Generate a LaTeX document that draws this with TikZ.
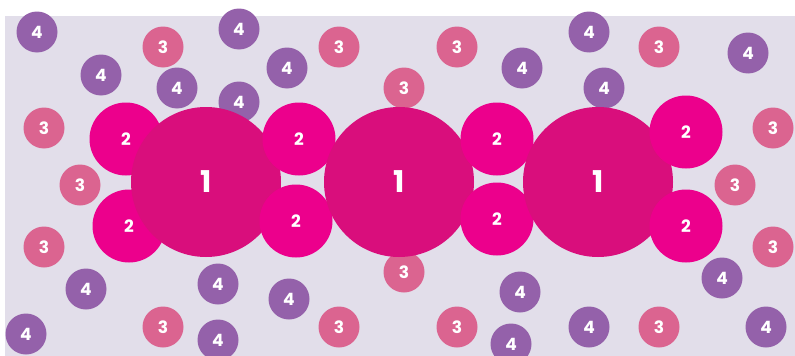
\documentclass[tikz,border=0pt]{standalone}
\usepackage{fontspec}
\setmainfont{Poppins}
\definecolor{bgc}{HTML}{E2DEEA}
\definecolor{cone}{HTML}{D90E7C}
\definecolor{ctwo}{HTML}{EC008C}
\definecolor{cthree}{HTML}{DB6490}
\definecolor{cfour}{HTML}{9461AA}
\begin{document}
\begin{tikzpicture}[x=1pt,y=-1pt,
  bub/.style={circle,inner sep=0pt,text=white,font=\bfseries},
  lone/.style={bub,fill=cone,minimum size=150pt,font=\bfseries\fontsize{30}{30}\selectfont},
  ltwo/.style={bub,fill=ctwo,minimum size=73pt,font=\bfseries\fontsize{17}{17}\selectfont},
  lthree/.style={bub,fill=cthree,minimum size=41pt,font=\bfseries\fontsize{17}{17}\selectfont},
  lfour/.style={bub,fill=cfour,minimum size=41pt,font=\bfseries\fontsize{17}{17}\selectfont}]
\useasboundingbox (0,0) rectangle (795,356);
\fill[bgc] (5,16) rectangle (795,356);
% level 4
\foreach \n/\x/\y in {a/37/32,b/101/75,c/177/88,d/239/29,e/287/68,f/239/102,g/522/68,h/589/32,i/604/88,j/748/53,k/86/289,l/26/334,m/218/284,n/289/299,o/218/340,p/520/292,q/511/344,r/589/327,s/722/278,t/766/327}
  \node[lfour] (f\n) at (\x,\y) {4};
% level 3
\foreach \n/\x/\y in {a/163/47,b/339/47,c/457/47,d/659/47,e/44/128,f/404/88,g/80/185,h/773/128,i/735/185,j/44/247,k/404/272,l/773/247,m/163/327,n/339/327,o/457/327,p/659/327}
  \node[lthree] (t\n) at (\x,\y) {3};
% levels 2 and 1, left to right
\node[ltwo] (wa) at (126,139) {2};
\node[ltwo] (wb) at (129,226) {2};
\node[lone] (oa) at (206,182) {1};
\node[ltwo] (wc) at (299,139) {2};
\node[ltwo] (wd) at (296,221) {2};
\node[lone] (ob) at (399,182) {1};
\node[ltwo] (we) at (497,139) {2};
\node[ltwo] (wf) at (497,219) {2};
\node[lone] (oc) at (598,182) {1};
\node[ltwo] (wg) at (686,132) {2};
\node[ltwo] (wh) at (686,226) {2};
\end{tikzpicture}
\end{document}
